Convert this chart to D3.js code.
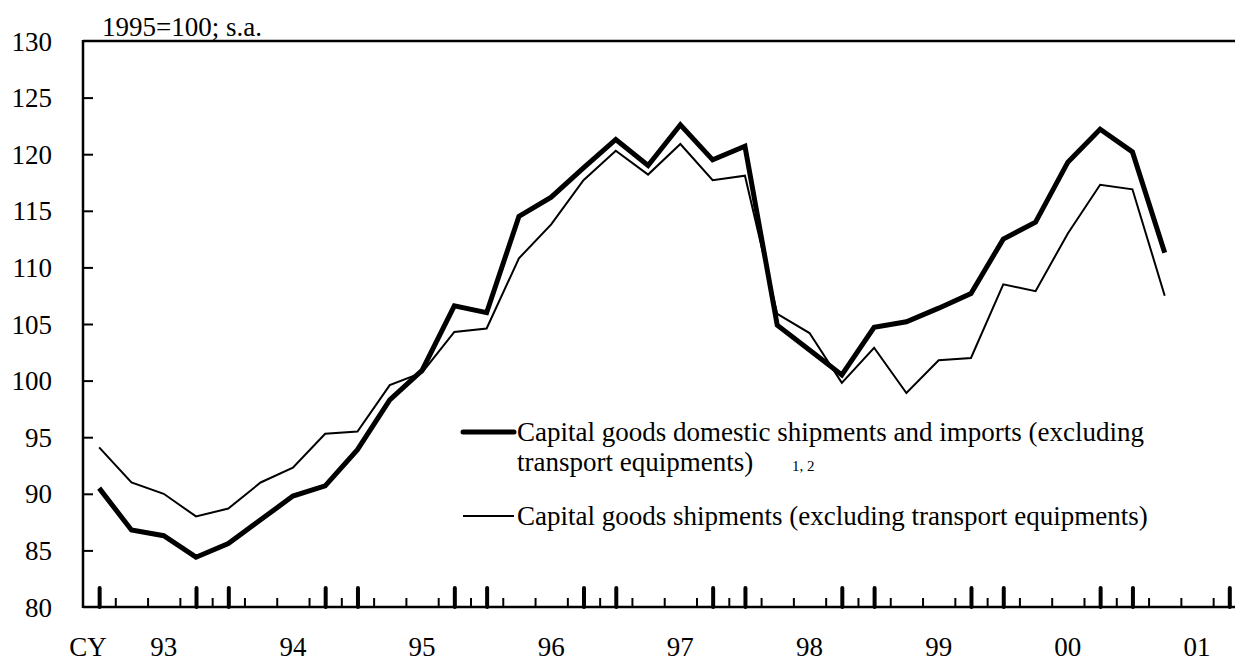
<!DOCTYPE html>
<html>
<head>
<meta charset="utf-8">
<script src="https://cdn.jsdelivr.net/npm/d3@7"></script>
<style>
  body { margin: 0; background: #fff; }
  svg text { font-family: "Liberation Serif", "Times New Roman", serif; fill: #000; }
</style>
</head>
<body>
<div id="chart"></div>
<script>
// years on the axis (CY), data is quarterly starting 93 Q1
var years = ["93", "94", "95", "96", "97", "98", "99", "00", "01"]
var quarters = []
years.forEach(function(y) { [1, 2, 3, 4].forEach(function(q) { quarters.push(y + "Q" + q) }) })

// Capital goods domestic shipments and imports (excl. transport equipments)
var domesticImports = [90.5, 86.8, 86.3, 84.4, 85.6, 87.7, 89.8, 90.7,
  93.9, 98.3, 100.9, 106.6, 106.0, 114.5, 116.2, 118.8,
  121.3, 119.0, 122.6, 119.5, 120.7, 104.9, 102.7, 100.5,
  104.7, 105.2, 106.4, 107.7, 112.5, 114.0, 119.3, 122.2,
  120.2, 111.3]
// Capital goods shipments (excl. transport equipments)
var shipments = [94.1, 91.0, 90.0, 88.0, 88.7, 91.0, 92.3, 95.3,
  95.5, 99.6, 100.7, 104.3, 104.6, 110.8, 113.8, 117.7,
  120.3, 118.2, 120.9, 117.7, 118.1, 105.9, 104.2, 99.8,
  102.9, 98.9, 101.8, 102.0, 108.5, 107.9, 113.0, 117.3,
  116.9, 107.5]

var yTicks = [80, 85, 90, 95, 100, 105, 110, 115, 120, 125, 130]

var W = 1235, H = 662
var plotLeft = 83, plotTop = 41, plotBottom = 607
var step = 32.29

var svg = d3.select("#chart").append("svg")
  .attr("width", W).attr("height", H)

// quarter index -> x
var x = d3.scaleLinear()
  .domain([-0.5, quarters.length - 0.5])
  .range([plotLeft, plotLeft + quarters.length * step])

var y = d3.scaleLinear()
  .domain([80, 130])
  .range([plotBottom, plotTop])

// y axis labels
var yAxis = svg.append("g")
  .attr("transform", "translate(" + plotLeft + ",0)")
  .call(d3.axisLeft(y).tickValues(yTicks).tickSizeInner(0).tickSizeOuter(0).tickPadding(31))
yAxis.select(".domain").remove()
yAxis.selectAll("text").style("font-size", "27px").attr("dy", "0.34em")

// inward y ticks
svg.append("g")
  .attr("transform", "translate(" + plotLeft + ",0)")
  .call(d3.axisRight(y).tickValues(yTicks.filter(function(d) { return d > 80 && d < 130 }))
    .tickSizeInner(10).tickSizeOuter(0).tickFormat(""))
  .call(function(g) {
    g.select(".domain").remove()
    g.selectAll(".tick line").attr("stroke-width", 2)
  })

// small ticks at quarter boundaries
var small = d3.range(0, quarters.length).map(function(i) { return i + 0.5 })
svg.append("g")
  .attr("transform", "translate(0," + plotBottom + ")")
  .call(d3.axisBottom(x).tickValues(small).tickSizeInner(-9).tickSizeOuter(0).tickFormat(""))
  .call(function(g) {
    g.select(".domain").remove()
    g.selectAll(".tick line").attr("stroke-width", 2)
  })

// heavy ticks at Q1 and Q4 of each year
var big = []
years.forEach(function(yy, k) { big.push(4 * k); big.push(4 * k + 3) })
svg.append("g")
  .attr("transform", "translate(0," + plotBottom + ")")
  .call(d3.axisBottom(x).tickValues(big).tickSizeInner(-19).tickSizeOuter(0).tickFormat(""))
  .call(function(g) {
    g.select(".domain").remove()
    g.selectAll(".tick line").attr("stroke-width", 4).attr("stroke-linecap", "round")
  })

// frame: left, bottom, top
svg.append("line").attr("x1", plotLeft).attr("x2", W + 5).attr("y1", plotBottom).attr("y2", plotBottom)
  .attr("stroke", "#000").attr("stroke-width", 2.5)
svg.append("line").attr("x1", plotLeft).attr("x2", plotLeft).attr("y1", plotTop - 1).attr("y2", plotBottom + 1)
  .attr("stroke", "#000").attr("stroke-width", 2.5)
svg.append("line").attr("x1", plotLeft).attr("x2", W + 5).attr("y1", plotTop).attr("y2", plotTop)
  .attr("stroke", "#000").attr("stroke-width", 2.5)

// year labels
svg.selectAll(".year")
  .data(years)
  .enter().append("text")
  .attr("x", function(d, k) { return x(4 * k + 2) })
  .attr("y", 656)
  .attr("text-anchor", "middle")
  .style("font-size", "27px")
  .text(function(d) { return d })

svg.append("text").attr("x", 88).attr("y", 656).attr("text-anchor", "middle")
  .style("font-size", "27px").text("CY")

svg.append("text").attr("x", 102).attr("y", 36)
  .style("font-size", "27px").text("1995=100; s.a.")

// series
var line = d3.line()
  .x(function(d, i) { return x(i) })
  .y(function(d) { return y(d) })

svg.append("path").datum(shipments)
  .attr("d", line).attr("fill", "none")
  .attr("stroke", "#000").attr("stroke-width", 2).attr("stroke-linejoin", "miter")

svg.append("path").datum(domesticImports)
  .attr("d", line).attr("fill", "none")
  .attr("stroke", "#000").attr("stroke-width", 5).attr("stroke-linejoin", "miter")

// legend
var lg = svg.append("g")
lg.append("line").attr("x1", 463).attr("x2", 514).attr("y1", 432).attr("y2", 432)
  .attr("stroke", "#000").attr("stroke-width", 5).attr("stroke-linecap", "round")
lg.append("text").attr("x", 517).attr("y", 441).style("font-size", "27px")
  .text("Capital goods domestic shipments and imports (excluding")
lg.append("text").attr("x", 517).attr("y", 471).style("font-size", "27px")
  .text("transport equipments)")
lg.append("text").attr("x", 792).attr("y", 471).style("font-size", "15px")
  .text("1, 2")
lg.append("line").attr("x1", 463).attr("x2", 514).attr("y1", 516).attr("y2", 516)
  .attr("stroke", "#000").attr("stroke-width", 2)
lg.append("text").attr("x", 517).attr("y", 525).style("font-size", "27px")
  .text("Capital goods shipments (excluding transport equipments)")
</script>
</body>
</html>
